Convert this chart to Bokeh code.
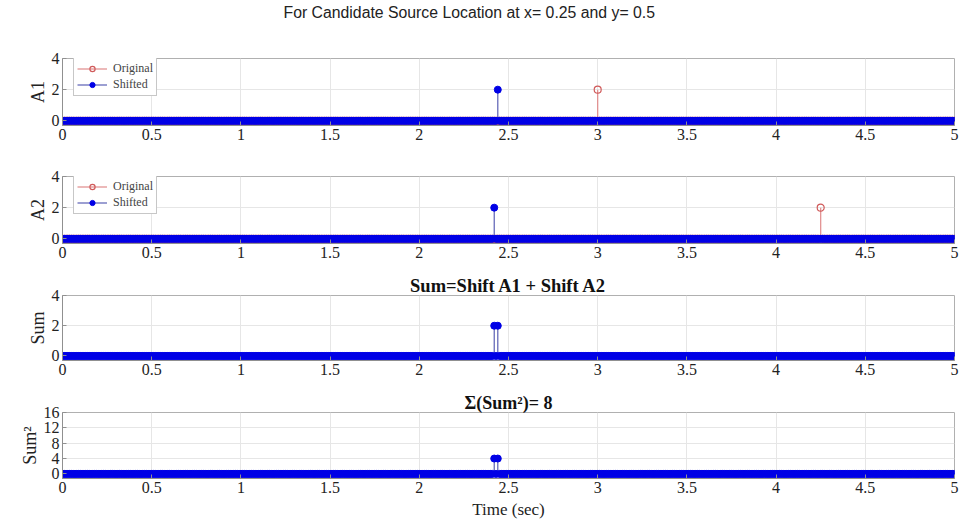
import numpy as np
from bokeh.plotting import figure
from bokeh.layouts import column
from bokeh.models import Range1d, FixedTicker, Legend, LegendItem, Title
from bokeh.embed import file_html
from bokeh.resources import INLINE

# ---- data ----
t_start, t_end, dt = 0.0, 5.0, 0.01
time = np.round(np.arange(t_start, t_end + dt / 2, dt), 2)

a1_orig_times, a1_orig_vals = [3.00], [2]
a1_shift_times, a1_shift_vals = [2.44], [2]
a2_orig_times, a2_orig_vals = [4.25], [2]
a2_shift_times, a2_shift_vals = [2.42], [2]
sum_times, sum_vals = [2.42, 2.44], [2, 2]
sumsq_times, sumsq_vals = [2.42, 2.44], [4, 4]

x_ticks = [0, 0.5, 1, 1.5, 2, 2.5, 3, 3.5, 4, 4.5, 5]
x_tick_labels = ["0", "0.5", "1", "1.5", "2", "2.5", "3", "3.5", "4", "4.5", "5"]
y_ticks_small = [0, 2, 4]
y_ticks_sq = [0, 4, 8, 12, 16]

main_title = "For Candidate Source Location at x= 0.25  and y= 0.5"
sum_title = "Sum=Shift A1 + Shift A2"
sumsq_title = "\u03a3(Sum\u00b2)= 8"


def series(times, vals):
    y = np.zeros_like(time, dtype=float)
    for tt, vv in zip(times, vals):
        y[np.argmin(np.abs(time - tt))] = vv
    return y


BLUE = "#0000e6"
BLUE_STEM = "#5a5fb4"
RED = "#d05a5a"
RED_STEM = "#e08a8a"
SERIF = "Liberation Serif"


def make_fig(height, top, bottom, ymin, ymax, yticks, ylabel, xlabel=None):
    p = figure(width=960, height=height, output_backend="svg", toolbar_location=None,
               min_border_left=62, min_border_right=6, min_border_top=top,
               min_border_bottom=bottom, x_range=Range1d(0, 5), y_range=Range1d(ymin, ymax))
    p.xaxis.ticker = FixedTicker(ticks=x_ticks)
    p.xaxis.major_label_overrides = {t: l for t, l in zip(x_ticks, x_tick_labels)}
    p.yaxis.ticker = FixedTicker(ticks=yticks)
    for ax in (p.xaxis, p.yaxis):
        ax.major_label_text_font = SERIF
        ax.major_label_text_font_size = "16px"
        ax.major_label_text_color = "#222222"
        ax.axis_line_color = "#909090"
        ax.major_tick_line_color = "#909090"
        ax.major_tick_in = 4
        ax.major_tick_out = 0
        ax.minor_tick_line_color = None
        ax.major_label_standoff = 3
    p.yaxis.axis_label = ylabel
    p.yaxis.axis_label_text_font = SERIF
    p.yaxis.axis_label_text_font_size = "18px"
    p.yaxis.axis_label_text_font_style = "normal"
    p.yaxis.axis_label_text_color = "#222222"
    p.yaxis.axis_label_standoff = 1
    if xlabel:
        p.xaxis.axis_label = xlabel
        p.xaxis.axis_label_text_font = SERIF
        p.xaxis.axis_label_text_font_size = "17px"
        p.xaxis.axis_label_text_font_style = "normal"
        p.xaxis.axis_label_text_color = "#222222"
        p.xaxis.axis_label_standoff = 4
    p.grid.grid_line_color = "#e6e6e6"
    p.outline_line_color = "#b0b0b0"
    p.background_fill_color = "white"
    p.border_fill_color = "white"
    return p


def stems(p, y, stem_color, marker_color, fill, size=7):
    r1 = p.segment(x0=time, y0=np.zeros_like(y), x1=time, y1=y, line_color=stem_color, line_width=1.2)
    if fill:
        r2 = p.scatter(time, y, size=size, fill_color=marker_color, line_color=marker_color)
    else:
        r2 = p.scatter(time, y, size=size, fill_color=None, line_color=marker_color, line_width=1.2)
    return [r1, r2]


def add_legend(p, r_orig, r_shift, loc):
    leg = Legend(items=[LegendItem(label="Original", renderers=r_orig),
                        LegendItem(label="Shifted", renderers=r_shift)],
                 location=loc)
    leg.label_text_font = SERIF
    leg.label_text_font_size = "12px"
    leg.label_height = 13
    leg.glyph_height = 13
    leg.glyph_width = 30
    leg.spacing = 1
    leg.padding = 3
    leg.margin = 0
    leg.label_standoff = 6
    leg.border_line_color = "#909090"
    leg.background_fill_alpha = 1
    p.add_layout(leg)


def bold_title(p, text, size):
    p.title.text = text
    p.title.align = "center"
    p.title.text_font = SERIF
    p.title.text_font_size = size
    p.title.text_font_style = "bold"
    p.title.text_color = "#111111"
    p.title.standoff = 0


# Panel 1
p1 = make_fig(160, 58, 35, -0.3, 4, y_ticks_small, "A1")
p1.add_layout(Title(text="\u00a0", text_font_size="32px", standoff=0), "above")
p1.add_layout(Title(text=main_title, align="left", offset=221, text_font="Liberation Sans",
                    text_font_size="15.8px", text_font_style="normal", text_color="#222222",
                    standoff=0), "above")
r_o1 = stems(p1, series(a1_orig_times, a1_orig_vals), RED_STEM, RED, False)
r_s1 = stems(p1, series(a1_shift_times, a1_shift_vals), BLUE_STEM, BLUE, True)
add_legend(p1, r_o1, r_s1, (11, 29))

# Panel 2
p2 = make_fig(108, 16, 25, -0.3, 4, y_ticks_small, "A2")
r_o2 = stems(p2, series(a2_orig_times, a2_orig_vals), RED_STEM, RED, False)
r_s2 = stems(p2, series(a2_shift_times, a2_shift_vals), BLUE_STEM, BLUE, True)
add_legend(p2, r_o2, r_s2, (11, 29))

# Panel 3
p3 = make_fig(118, 27, 26, -0.3, 4, y_ticks_small, "Sum")
bold_title(p3, sum_title, "18.5px")
stems(p3, series(sum_times, sum_vals), BLUE_STEM, BLUE, True)

# Panel 4
p4 = make_fig(137, 26, 45, -1.2, 16, y_ticks_sq, "Sum\u00b2", xlabel="Time (sec)")
bold_title(p4, sumsq_title, "18px")
stems(p4, series(sumsq_times, sumsq_vals), BLUE_STEM, BLUE, True)

layout = column(p1, p2, p3, p4, spacing=0)
open("out.html", "w").write(file_html(layout, INLINE))
